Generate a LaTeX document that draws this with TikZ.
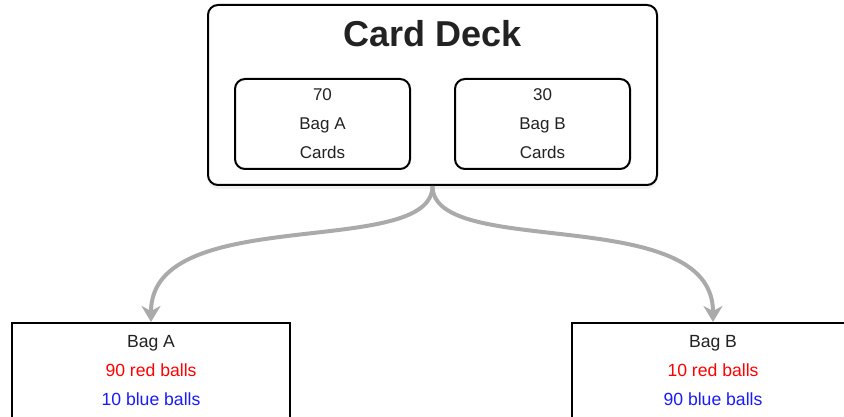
\documentclass[tikz,border=0pt]{standalone}
\usepackage{fontspec}
\setmainfont{Liberation Sans}
\usepackage{tikz}
\usetikzlibrary{arrows.meta,shadows}
\tikzset{>=Stealth}
\usepackage{xcolor}
\definecolor{inkdark}{HTML}{222222}
\definecolor{flowgray}{HTML}{AAAAAA}
\definecolor{ballred}{HTML}{FF0000}
\definecolor{ballblue}{HTML}{1A1AFF}

\begin{document}
\begin{tikzpicture}[x=1pt,y=-1pt,
    deckbox/.style={draw=black, line width=2pt, rounded corners=10pt, fill=white,
        minimum width=449pt, minimum height=180pt, inner sep=0pt,
        drop shadow={opacity=0.12, shadow xshift=0pt, shadow yshift=-4pt}},
    cardbox/.style={draw=black, line width=2pt, rounded corners=10pt,
        minimum width=175pt, minimum height=90pt, inner sep=0pt, align=center,
        text=inkdark, font=\fontsize{17}{29}\selectfont},
    bagbox/.style={draw=black, line width=2pt, fill=white,
        minimum height=96pt, inner sep=0pt, align=center,
        text=inkdark, font=\fontsize{17.6}{29}\selectfont},
    flow/.style={-{Stealth[length=16pt,width=19pt,inset=5pt]}, draw=flowgray, line width=4pt}]
  \useasboundingbox (0,0) rectangle (844,417);
  \clip (0,0) rectangle (844,417);
  % the deck with its two kinds of cards
  \node[deckbox] (deck) at (432.5,95) {};
  \node[font=\fontsize{36}{40}\selectfont\bfseries, text=inkdark, anchor=base] (title) at (433,47) {Card Deck};
  \node[cardbox] (cardsA) at (322.5,124) {70\\Bag A\\Cards};
  \node[cardbox] (cardsB) at (542.5,124) {30\\Bag B\\Cards};
  % the two bags, cut off by the lower edge
  \node[bagbox, minimum width=278pt] (bagA) at (151,371)
      {Bag A\\\textcolor{ballred}{90 red balls}\\\textcolor{ballblue}{10 blue balls}};
  \node[bagbox, minimum width=282pt] (bagB) at (713,371)
      {Bag B\\\textcolor{ballred}{10 red balls}\\\textcolor{ballblue}{90 blue balls}};
  % draw a card, go to its bag
  \draw[flow] (deck.south) .. controls +(0,74) and +(0,-120) .. (bagA.north);
  \draw[flow] (deck.south) .. controls +(0,74) and +(0,-120) .. (bagB.north);
\end{tikzpicture}
\end{document}
